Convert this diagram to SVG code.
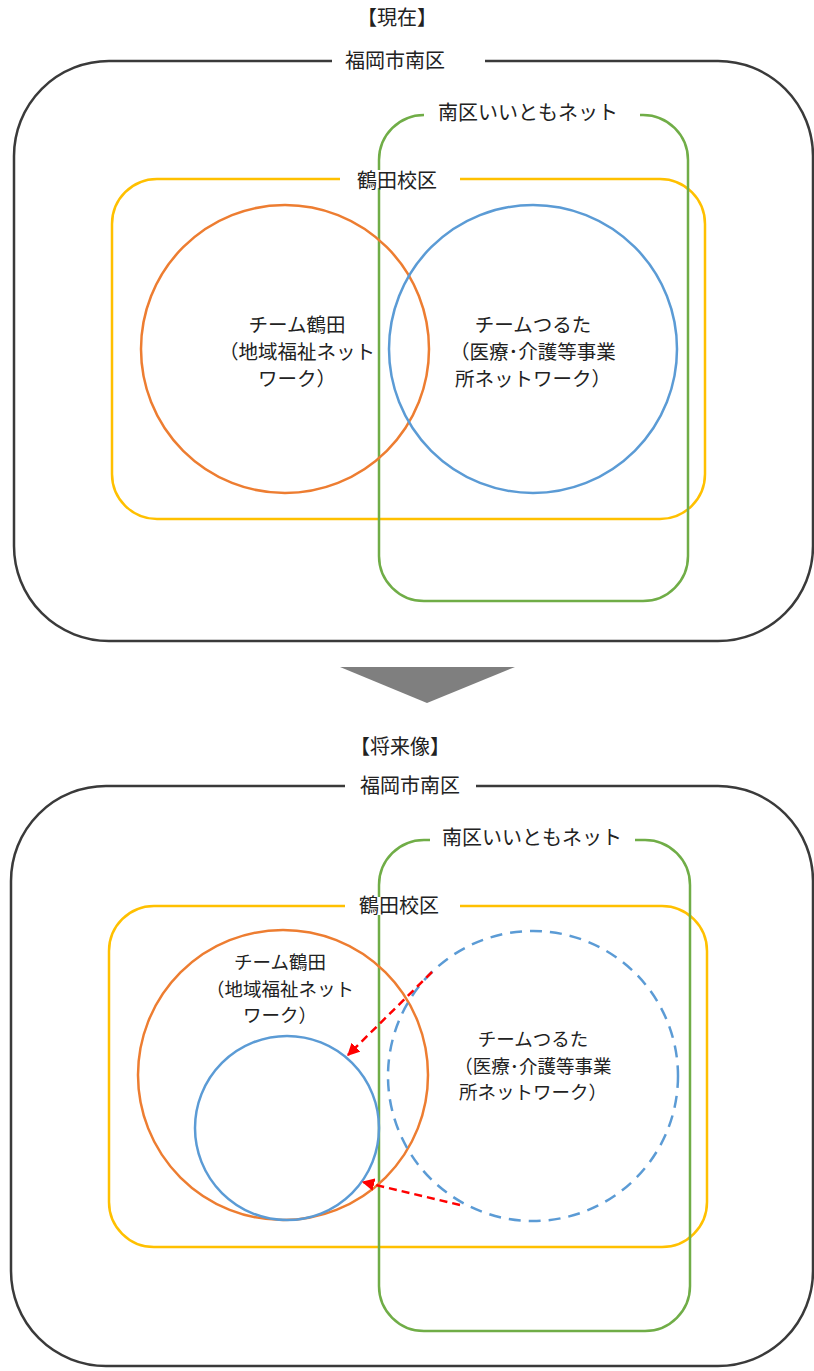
<svg xmlns="http://www.w3.org/2000/svg" width="814" height="1371" viewBox="0 0 814 1371">
<defs>
<style>
text{font-family:"Noto Sans CJK JP","Noto Sans",sans-serif;font-size:19.5px;fill:#222;text-anchor:middle}
.lbl{font-size:20px}
.sm{font-size:18.5px}
.outer{fill:none;stroke:#3a3a3a;stroke-width:2.5}
.green{fill:none;stroke:#70ad47;stroke-width:2.5}
.yellow{fill:none;stroke:#ffc000;stroke-width:2.5}
.orange{fill:none;stroke:#ed7d31;stroke-width:2.5}
.blue{fill:none;stroke:#5b9bd5;stroke-width:2.5}
.dash{stroke-dasharray:12 8}
.mask{fill:#fff;stroke:none}
.red{fill:none;stroke:#ff0000;stroke-width:2.5;stroke-dasharray:8 5}
</style>
<marker id="ah" viewBox="0 0 10 10" refX="9" refY="5" markerWidth="5" markerHeight="5" orient="auto" markerUnits="strokeWidth">
<path d="M0,0 L10,5 L0,10 z" fill="#ff0000"/>
</marker>
</defs>
<rect width="814" height="1371" fill="#fff"/>

<text class="lbl" x="397" y="25">【現在】</text>

<g id="top-outer">
<rect class="outer" x="14" y="61" width="799" height="580" rx="95"/>
<rect class="mask" x="332" y="52" width="153" height="18"/>
<text class="lbl" x="395" y="68">福岡市南区</text>
</g>
<g id="top-yellow">
<rect class="yellow" x="112" y="179" width="593" height="340" rx="45"/>
</g>
<g id="top-green">
<rect class="green" x="379" y="115" width="309" height="486" rx="45"/>
<rect class="mask" x="424" y="106" width="216" height="18"/>
<text class="lbl" x="528" y="120">南区いいともネット</text>
</g>
<g id="top-yellow-label">
<rect class="mask" x="340" y="170" width="120" height="18"/>
<text class="lbl" x="397" y="188">鶴田校区</text>
</g>
<g id="top-orange">
<circle class="orange" cx="285" cy="349" r="144"/>
<text x="297" y="332">チーム鶴田</text>
<text x="297" y="359">（地域福祉ネット</text>
<text x="297" y="386">ワーク）</text>
</g>
<g id="top-blue">
<circle class="blue" cx="533" cy="349" r="144"/>
<text x="533" y="332">チームつるた</text>
<text x="533" y="359">（医療･介護等事業</text>
<text x="533" y="386">所ネットワーク）</text>
</g>

<g id="down-arrow">
<polygon points="340,667 515,667 427,703" fill="#7f7f7f"/>
</g>

<text class="lbl" x="400" y="754">【将来像】</text>

<g id="bot-outer">
<rect class="outer" x="11" y="786" width="802" height="580" rx="95"/>
<rect class="mask" x="345" y="777" width="131" height="18"/>
<text class="lbl" x="410" y="793">福岡市南区</text>
</g>
<g id="bot-yellow">
<rect class="yellow" x="109" y="906" width="598" height="341" rx="45"/>
</g>
<g id="bot-green">
<rect class="green" x="379" y="840" width="311" height="491" rx="45"/>
<rect class="mask" x="430" y="831" width="205" height="18"/>
<text class="lbl" x="532" y="845">南区いいともネット</text>
</g>
<g id="bot-yellow-label">
<rect class="mask" x="345" y="897" width="115" height="18"/>
<text class="lbl" x="399" y="913">鶴田校区</text>
</g>
<g id="bot-orange">
<circle class="orange" cx="283" cy="1075" r="145"/>
<text class="sm" x="280" y="969">チーム鶴田</text>
<text class="sm" x="280" y="995.5">（地域福祉ネット</text>
<text class="sm" x="280" y="1022">ワーク）</text>
</g>
<g id="bot-blue-small">
<circle class="blue" cx="287" cy="1128" r="92"/>
</g>
<g id="bot-blue-dashed">
<circle class="blue dash" cx="533" cy="1076" r="145"/>
<text class="sm" x="533" y="1046">チームつるた</text>
<text class="sm" x="533" y="1072.5">（医療･介護等事業</text>
<text class="sm" x="533" y="1099">所ネットワーク）</text>
</g>

<g id="connectors">
<line class="red" x1="432" y1="972" x2="348" y2="1055" marker-end="url(#ah)"/>
<line class="red" x1="460" y1="1205" x2="363" y2="1182" marker-end="url(#ah)"/>
</g>
</svg>
